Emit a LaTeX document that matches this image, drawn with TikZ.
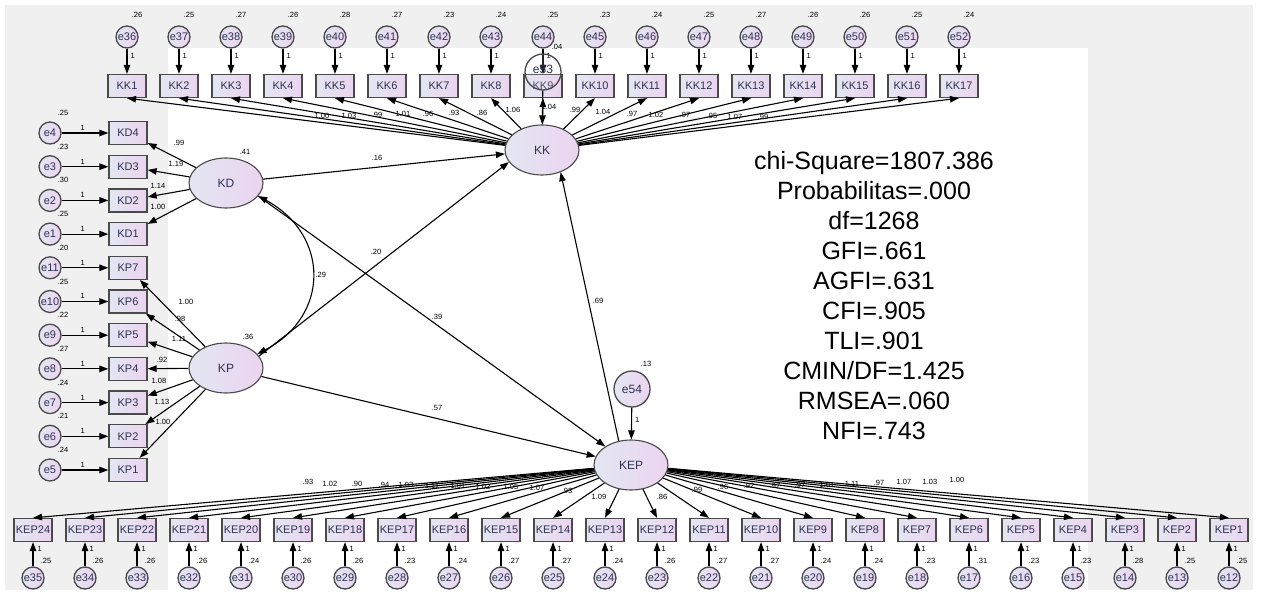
\documentclass[tikz,border=0pt]{standalone}
\usepackage{fontspec}
\setmainfont{Liberation Sans}
\usetikzlibrary{arrows.meta,shapes.geometric}
\definecolor{boxleft}{HTML}{E3E6F3}
\definecolor{boxright}{HTML}{EBD4EF}
\definecolor{rim}{HTML}{4A4A4A}
\definecolor{panel}{HTML}{F0F0F0}
\definecolor{ink}{HTML}{2E3350}

\begin{document}
\begin{tikzpicture}[x=1pt,y=-1pt,>={Triangle[length=9pt,width=6.5pt]},
obs/.style={draw=rim, line width=1.3pt, left color=boxleft, right color=boxright, minimum width=38pt, minimum height=23pt, inner sep=0pt, font=\fontsize{11}{12}\selectfont, text=ink},
lat/.style={ellipse, draw=rim, line width=1.1pt, left color=boxleft, right color=boxright, minimum width=74pt, minimum height=50pt, inner sep=0pt, font=\fontsize{12}{13}\selectfont, text=ink},
err/.style={circle, draw=rim, line width=1.3pt, left color=boxleft, right color=boxright, minimum size=22pt, inner sep=0pt, font=\fontsize{11}{12}\selectfont, text=ink},
link/.style={->, line width=1.1pt},
num/.style={font=\fontsize{7.5}{8}\selectfont, inner sep=0pt},
fit/.style={font=\fontsize{25}{30}\selectfont, align=center, inner sep=0pt}]
\useasboundingbox (0,0) rectangle (1261,594);
\fill[panel] (5,5) rectangle (1253,590);
\fill[white] (168,48) rectangle (1088,590);
% latent variables
\node[lat] (kk) at (542,150) {KK};
\node[lat] (kd) at (226,183) {KD};
\node[lat] (kp) at (226,368) {KP};
\node[lat] (kep) at (631,465) {KEP};
\node[err, minimum size=36pt, font=\fontsize{12}{13}\selectfont] (e54) at (632,389) {e54};
\node[num] (v53) at (557,47) {.04};
\node[num] (v54) at (646,364) {.13};
\node[num] (vkd) at (245,152) {.41};
\node[num] (vkp) at (248,337) {.36};
% KK indicators
\foreach \i/\r/\w/\lx/\ly in {1/.26/1.00/322/116, 2/.25/1.03/349/116, 3/.27/.99/377/115, 4/.26/1.01/403/114,
  5/.28/.96/428/114, 6/.27/.93/454/113, 7/.23/.86/482/113, 8/.24/1.06/513/110, 9/.25/1.04/549/107,
  10/.23/.99/575/110, 11/.24/1.04/603/112, 12/.25/.97/632/114, 13/.27/1.02/656/115, 14/.26/.97/685/115,
  15/.26/.95/712/116, 16/.25/1.07/735/117, 17/.24/.99/763/117}{
  \pgfmathsetmacro\xx{127+52*(\i-1)}
  \pgfmathtruncatemacro\ee{35+\i}
  \node[obs] (kk\i) at (\xx,86) {KK\i};
  \node[err] (e\ee) at (\xx,37) {e\ee};
  \node[num] (v\ee) at (\xx+10,15) {\r};
  \draw[link] (e\ee) -- (kk\i) node[num, pos=.3, right=3pt] {1};
  \draw[link] (kk) -- (kk\i.south);
  \node[num] (wkk\i) at (\lx,\ly) {\w};
}
\node[err, minimum size=36pt, font=\fontsize{12}{13}\selectfont, fill opacity=.15, text opacity=1] (e53) at (543,72) {\raisebox{5pt}{e53}};
\draw[link] (e53) -- (kk);
% KD indicators
\foreach \n/\e/\r/\w/\lx/\ly [count=\k from 0] in {4/4/.25/.99/179/143, 3/3/.23/1.19/176/164, 2/2/.30/1.14/158/186, 1/1/.25/1.00/158/207}{
  \pgfmathsetmacro\yy{133+33.7*\k}
  \node[obs] (kd\n) at (128,\yy) {KD\n};
  \node[err] (e\e) at (50,\yy) {e\e};
  \node[num] (v\e) at (63,\yy-20) {\r};
  \draw[link] (e\e) -- (kd\n) node[num, pos=.45, above=2pt] {1};
  \draw[link] (kd) -- (kd\n);
  \node[num] (wkd\n) at (\lx,\ly) {\w};
}
% KP indicators
\foreach \n/\e/\r/\w/\lx/\ly [count=\k from 4] in {7/11/.20/1.00/186/302, 6/10/.25/.98/180/319, 5/9/.22/1.11/179/339,
  4/8/.27/.92/162/360, 3/7/.24/1.08/159/381, 2/6/.21/1.13/162/402, 1/5/.24/1.00/163/422}{
  \pgfmathsetmacro\yy{133+33.7*\k}
  \node[obs] (kp\n) at (128,\yy) {KP\n};
  \node[err] (e\e) at (50,\yy) {e\e};
  \node[num] (v\e) at (63,\yy-20) {\r};
  \draw[link] (e\e) -- (kp\n) node[num, pos=.45, above=2pt] {1};
  \draw[link] (kp) -- (kp\n);
  \node[num] (wkp\n) at (\lx,\ly) {\w};
}
% KEP indicators
\foreach \n/\r/\w/\lx/\ly in {24/.25/.93/308/482, 23/.26/1.02/330/484, 22/.26/.90/357/484, 21/.26/.94/384/485,
  20/.24/1.03/406/485, 19/.26/1.11/432/486, 18/.26/1.01/458/486, 17/.23/1.02/483/487, 16/.24/1.05/511/487,
  15/.27/1.07/537/488, 14/.27/.93/567/491, 13/.24/1.09/599/497, 12/.26/.86/662/497, 11/.27/.99/697/490,
  10/.27/.96/723/487, 9/.24/.92/749/486, 8/.24/.97/775/486, 7/.23/.97/800/485, 6/.31/1.01/827/485,
  5/.23/1.11/852/484, 4/.23/.97/879/483, 3/.28/1.07/904/482, 2/.25/1.03/930/482, 1/.25/1.00/957/480}{
  \pgfmathsetmacro\xx{1229-52*(\n-1)}
  \pgfmathtruncatemacro\ee{11+\n}
  \node[obs] (kep\n) at (\xx,530) {KEP\n};
  \node[err] (e\ee) at (\xx,578) {e\ee};
  \node[num] (v\ee) at (\xx+13,561) {\r};
  \draw[link] (e\ee) -- (kep\n) node[num, pos=.72, right=4pt] {1};
  \draw[link] (kep) -- (kep\n.north);
  \node[num] (wkep\n) at (\lx,\ly) {\w};
}
% structural part
\draw[link] (kd) -- (kk);
\draw[link] (kp.20) -- (kk.200);
\draw[link] (kd.-22) -- (kep);
\draw[link] (kp) -- (kep);
\draw[link] (kep.117) -- (kk.-50);
\draw[link] (e54) -- (kep) node[num, pos=.4, right=3pt] {1};
\draw[link, <->] (kd.-22) .. controls (330,235) and (330,316) .. (kp.24) node[num, pos=.5, right=3pt] {.29};
\node[num] (p16) at (377,158) {.16};
\node[num] (p20) at (376,252) {.20};
\node[num] (p39) at (437,317) {.39};
\node[num] (p57) at (437,408) {.57};
\node[num] (p69) at (598,301) {.69};
% fit indices
\node[fit] (stats) at (874,296) {chi-Square=1807.386\\Probabilitas=.000\\df=1268\\GFI=.661\\AGFI=.631\\CFI=.905\\TLI=.901\\CMIN/DF=1.425\\RMSEA=.060\\NFI=.743};
\end{tikzpicture}
\end{document}
